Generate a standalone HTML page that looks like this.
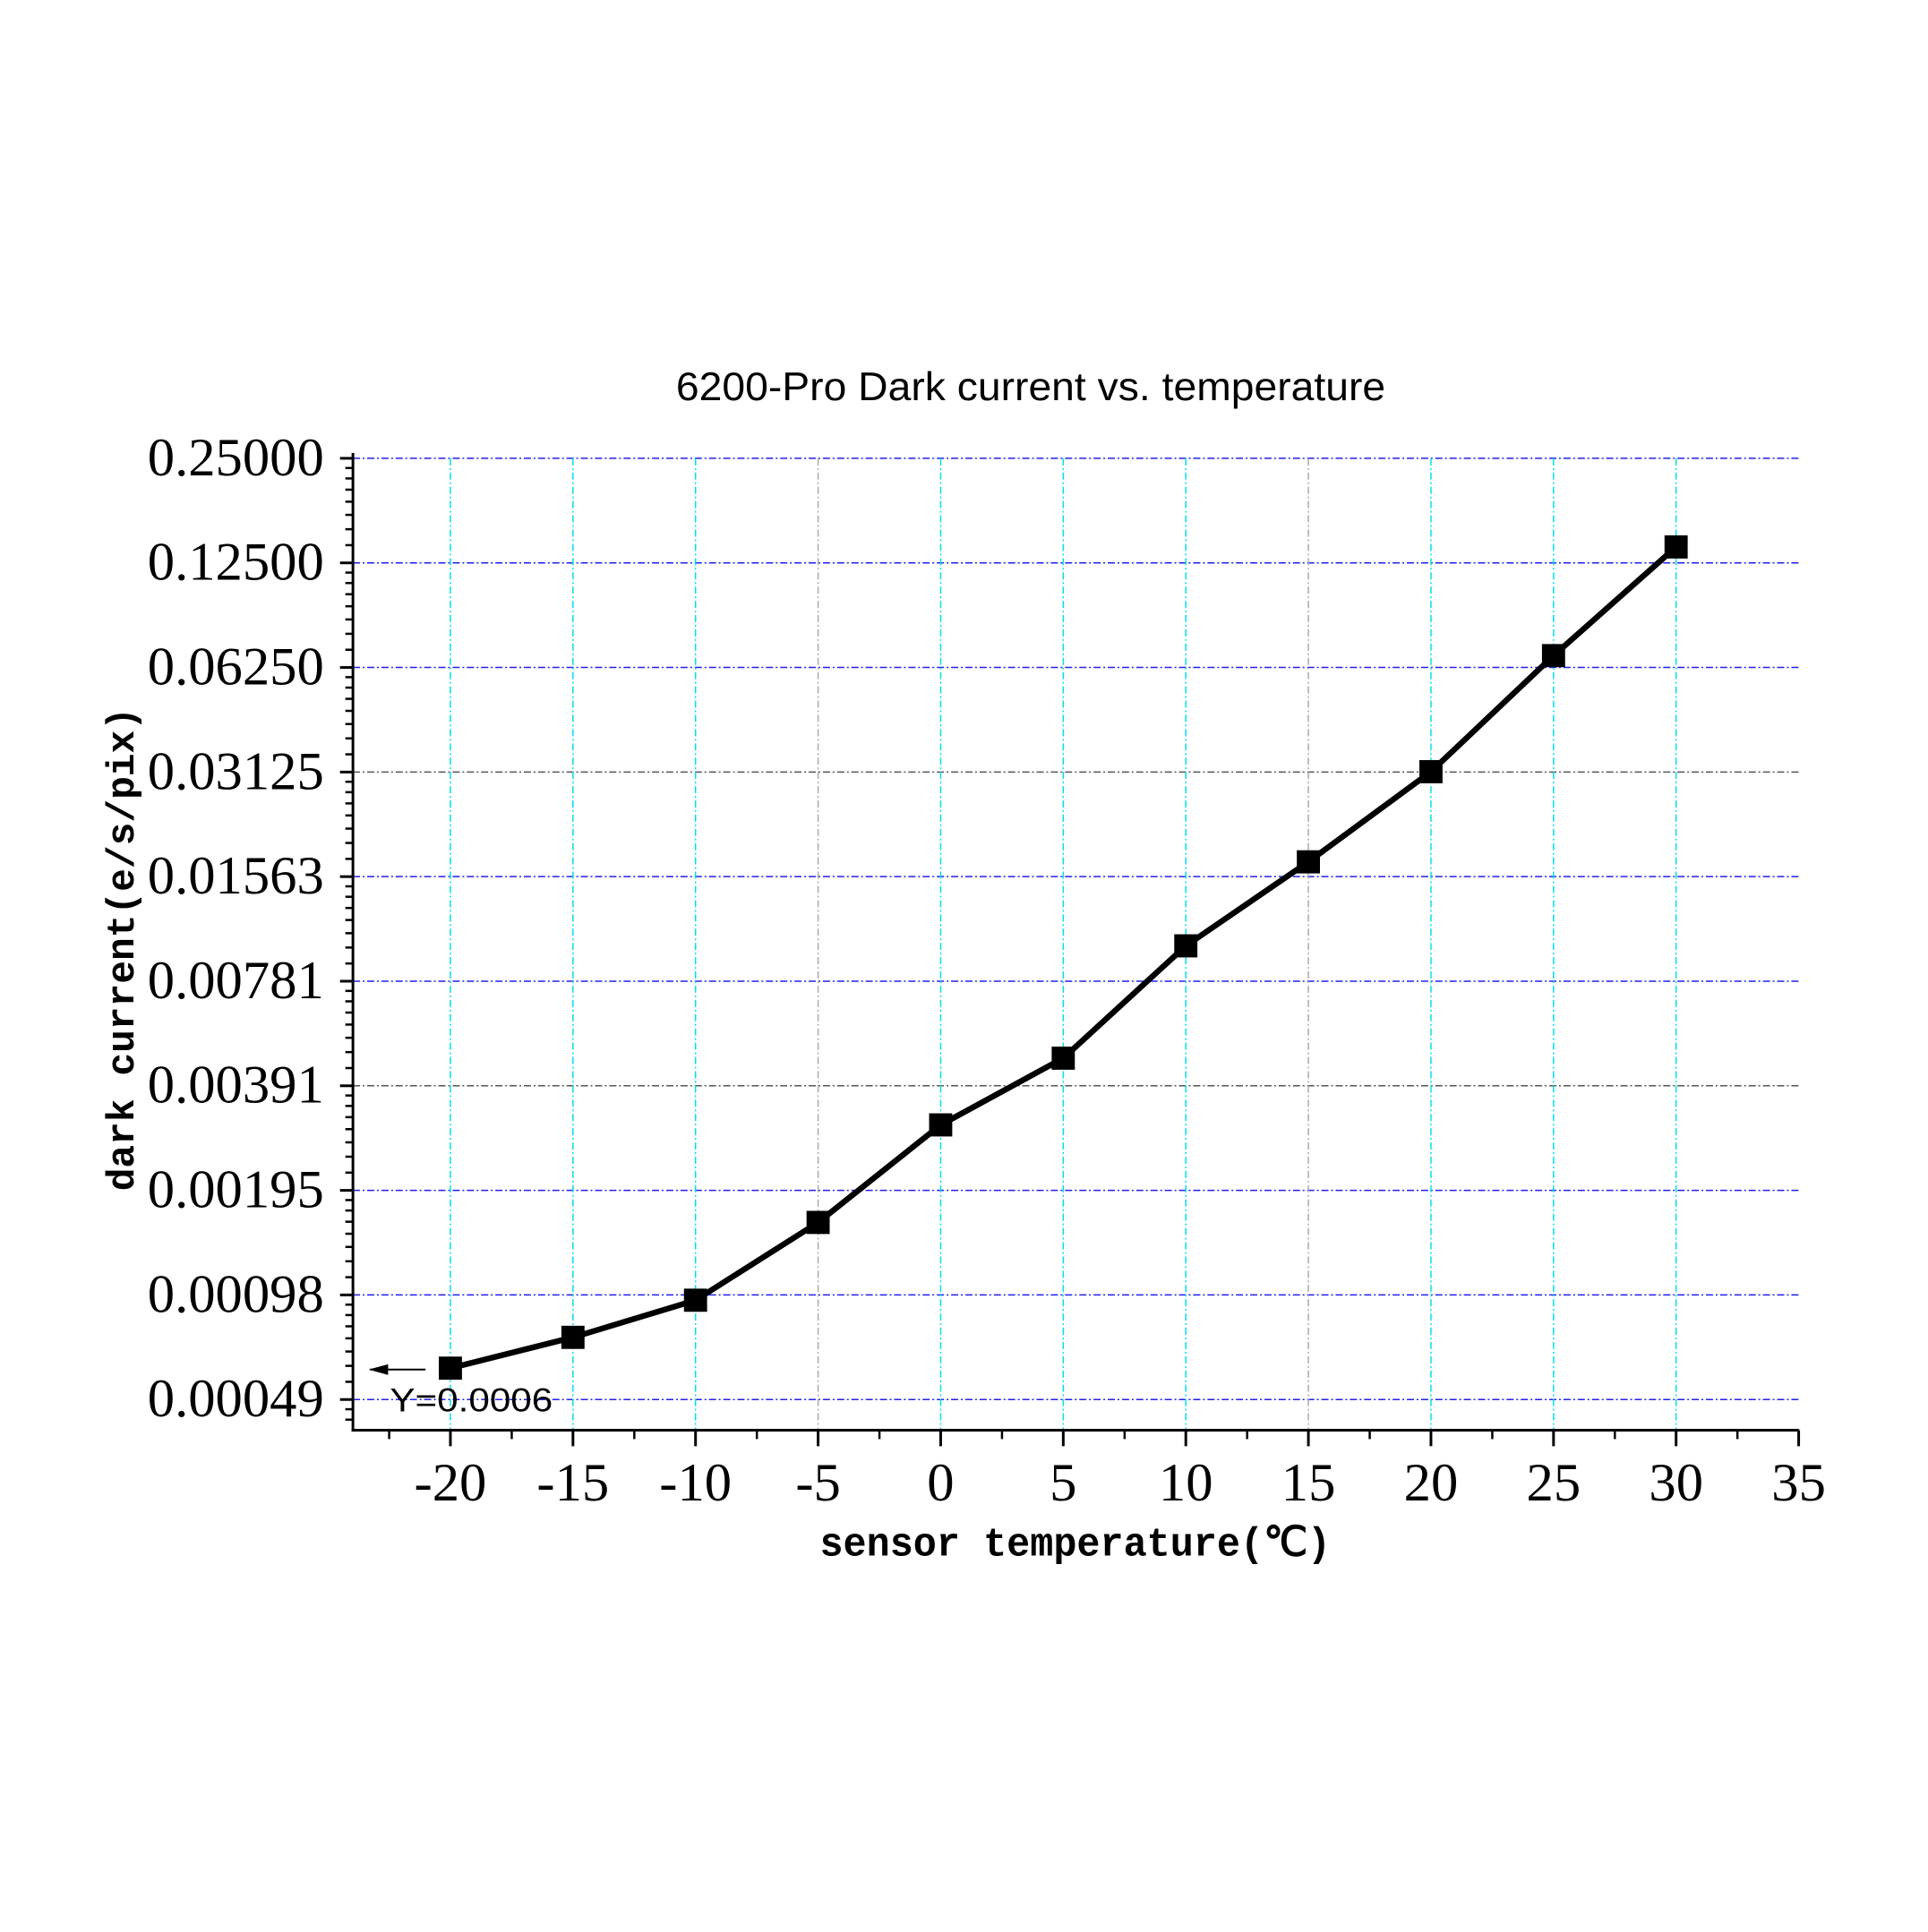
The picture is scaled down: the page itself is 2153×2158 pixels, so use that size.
<!DOCTYPE html>
<html><head><meta charset="utf-8"><style>html,body{margin:0;padding:0;background:#fff}</style></head>
<body>
<svg xmlns="http://www.w3.org/2000/svg" width="2153" height="2153" viewBox="0 0 2153 2153">
<defs>
<g id="mt" stroke="#000" stroke-width="2.5">
<line x1="388" y1="10.9" x2="396.5" y2="10.9"/><line x1="388" y1="22.6" x2="396.5" y2="22.6"/>
<line x1="388" y1="35.2" x2="396.5" y2="35.2"/><line x1="388" y1="48.7" x2="396.5" y2="48.7"/>
<line x1="388" y1="63.5" x2="396.5" y2="63.5"/><line x1="388" y1="79.6" x2="396.5" y2="79.6"/>
<line x1="388" y1="97.5" x2="396.5" y2="97.5"/>
</g>
</defs>
<rect width="2153" height="2153" fill="#fff"/>
<g transform="matrix(0.994,0,0,0.995,0,-1.5)">
<text x="1158" y="451" font-family="Liberation Sans, sans-serif" font-size="45" text-anchor="middle" textLength="797" lengthAdjust="spacingAndGlyphs">6200-Pro Dark current vs. temperature</text>

<g stroke="#2020ee" stroke-width="1.5" stroke-dasharray="8 3 2 3">
<line x1="396.5" y1="516" x2="2021" y2="516"/>
<line x1="396.5" y1="633.4" x2="2021" y2="633.4"/>
<line x1="396.5" y1="750.8" x2="2021" y2="750.8"/>
<line x1="396.5" y1="868.2" x2="2021" y2="868.2" stroke="#555"/>
<line x1="396.5" y1="985.6" x2="2021" y2="985.6"/>
<line x1="396.5" y1="1103" x2="2021" y2="1103"/>
<line x1="396.5" y1="1220.4" x2="2021" y2="1220.4" stroke="#555"/>
<line x1="396.5" y1="1337.8" x2="2021" y2="1337.8"/>
<line x1="396.5" y1="1455.2" x2="2021" y2="1455.2"/>
<line x1="396.5" y1="1572.6" x2="2021" y2="1572.6"/>
</g>
<g stroke="#00e0e8" stroke-width="1.5" stroke-dasharray="8 3 2 3">
<line x1="506" y1="516" x2="506" y2="1607"/>
<line x1="643.7" y1="516" x2="643.7" y2="1607"/>
<line x1="781.4" y1="516" x2="781.4" y2="1607"/>
<line x1="919.1" y1="516" x2="919.1" y2="1607" stroke="#aaa"/>
<line x1="1056.8" y1="516" x2="1056.8" y2="1607"/>
<line x1="1194.5" y1="516" x2="1194.5" y2="1607"/>
<line x1="1332.2" y1="516" x2="1332.2" y2="1607"/>
<line x1="1469.9" y1="516" x2="1469.9" y2="1607" stroke="#aaa"/>
<line x1="1607.6" y1="516" x2="1607.6" y2="1607"/>
<line x1="1745.3" y1="516" x2="1745.3" y2="1607"/>
<line x1="1883" y1="516" x2="1883" y2="1607"/>
</g>

<g stroke="#000" stroke-width="3">
<line x1="382" y1="516" x2="396.5" y2="516"/>
<line x1="382" y1="633.4" x2="396.5" y2="633.4"/>
<line x1="382" y1="750.8" x2="396.5" y2="750.8"/>
<line x1="382" y1="868.2" x2="396.5" y2="868.2"/>
<line x1="382" y1="985.6" x2="396.5" y2="985.6"/>
<line x1="382" y1="1103" x2="396.5" y2="1103"/>
<line x1="382" y1="1220.4" x2="396.5" y2="1220.4"/>
<line x1="382" y1="1337.8" x2="396.5" y2="1337.8"/>
<line x1="382" y1="1455.2" x2="396.5" y2="1455.2"/>
<line x1="382" y1="1572.6" x2="396.5" y2="1572.6"/>
</g>
<use href="#mt" transform="translate(0,516)"/>
<use href="#mt" transform="translate(0,633.4)"/>
<use href="#mt" transform="translate(0,750.8)"/>
<use href="#mt" transform="translate(0,868.2)"/>
<use href="#mt" transform="translate(0,985.6)"/>
<use href="#mt" transform="translate(0,1103)"/>
<use href="#mt" transform="translate(0,1220.4)"/>
<use href="#mt" transform="translate(0,1337.8)"/>
<use href="#mt" transform="translate(0,1455.2)"/>
<g stroke="#000" stroke-width="2.5"><line x1="388" y1="1583.5" x2="396.5" y2="1583.5"/><line x1="388" y1="1595.2" x2="396.5" y2="1595.2"/></g>

<g font-family="Liberation Serif, serif" font-size="61" text-anchor="end">
<text x="364" y="535">0.25000</text>
<text x="364" y="652.4">0.12500</text>
<text x="364" y="769.8">0.06250</text>
<text x="364" y="887.2">0.03125</text>
<text x="364" y="1004.6">0.01563</text>
<text x="364" y="1122">0.00781</text>
<text x="364" y="1239.4">0.00391</text>
<text x="364" y="1356.8">0.00195</text>
<text x="364" y="1474.2">0.00098</text>
<text x="364" y="1591.6">0.00049</text>
</g>

<g stroke="#000" stroke-width="3">
<line x1="506" y1="1607" x2="506" y2="1625"/>
<line x1="643.7" y1="1607" x2="643.7" y2="1625"/>
<line x1="781.4" y1="1607" x2="781.4" y2="1625"/>
<line x1="919.1" y1="1607" x2="919.1" y2="1625"/>
<line x1="1056.8" y1="1607" x2="1056.8" y2="1625"/>
<line x1="1194.5" y1="1607" x2="1194.5" y2="1625"/>
<line x1="1332.2" y1="1607" x2="1332.2" y2="1625"/>
<line x1="1469.9" y1="1607" x2="1469.9" y2="1625"/>
<line x1="1607.6" y1="1607" x2="1607.6" y2="1625"/>
<line x1="1745.3" y1="1607" x2="1745.3" y2="1625"/>
<line x1="1883" y1="1607" x2="1883" y2="1625"/>
<line x1="2020.7" y1="1607" x2="2020.7" y2="1625"/>
</g>
<g stroke="#000" stroke-width="2.5">
<line x1="437.2" y1="1607" x2="437.2" y2="1617"/>
<line x1="574.9" y1="1607" x2="574.9" y2="1617"/>
<line x1="712.6" y1="1607" x2="712.6" y2="1617"/>
<line x1="850.3" y1="1607" x2="850.3" y2="1617"/>
<line x1="988" y1="1607" x2="988" y2="1617"/>
<line x1="1125.7" y1="1607" x2="1125.7" y2="1617"/>
<line x1="1263.4" y1="1607" x2="1263.4" y2="1617"/>
<line x1="1401.1" y1="1607" x2="1401.1" y2="1617"/>
<line x1="1538.8" y1="1607" x2="1538.8" y2="1617"/>
<line x1="1676.5" y1="1607" x2="1676.5" y2="1617"/>
<line x1="1814.2" y1="1607" x2="1814.2" y2="1617"/>
<line x1="1951.9" y1="1607" x2="1951.9" y2="1617"/>
</g>
<g font-family="Liberation Serif, serif" font-size="61" text-anchor="middle">
<text x="506" y="1686">-20</text>
<text x="643.7" y="1686">-15</text>
<text x="781.4" y="1686">-10</text>
<text x="919.1" y="1686">-5</text>
<text x="1056.8" y="1686">0</text>
<text x="1194.5" y="1686">5</text>
<text x="1332.2" y="1686">10</text>
<text x="1469.9" y="1686">15</text>
<text x="1607.6" y="1686">20</text>
<text x="1745.3" y="1686">25</text>
<text x="1883" y="1686">30</text>
<text x="2020.7" y="1686">35</text>
</g>

<line x1="396.5" y1="510" x2="396.5" y2="1608.5" stroke="#000" stroke-width="3"/>
<line x1="395" y1="1607" x2="2021" y2="1607" stroke="#000" stroke-width="3"/>

<polyline points="506,1537.4 643.7,1502.8 781.4,1461.1 919.1,1373.8 1056.8,1264.3 1194.5,1189.4 1332.2,1063.3 1469.9,969 1607.6,867.8 1745.3,737.5 1883,615.5" fill="none" stroke="#000" stroke-width="6.5" stroke-linejoin="round"/>
<g fill="#000">
<rect x="493" y="1524.4" width="26" height="26"/>
<rect x="630.7" y="1489.8" width="26" height="26"/>
<rect x="768.4" y="1448.1" width="26" height="26"/>
<rect x="906.1" y="1360.8" width="26" height="26"/>
<rect x="1043.8" y="1251.3" width="26" height="26"/>
<rect x="1181.5" y="1176.4" width="26" height="26"/>
<rect x="1319.2" y="1050.3" width="26" height="26"/>
<rect x="1456.9" y="956" width="26" height="26"/>
<rect x="1594.6" y="854.8" width="26" height="26"/>
<rect x="1732.3" y="724.5" width="26" height="26"/>
<rect x="1870" y="602.5" width="26" height="26"/>
</g>

<line x1="416" y1="1539" x2="478" y2="1539" stroke="#000" stroke-width="2"/>
<polygon points="414,1539 436,1533 436,1545" fill="#000"/>
<text x="438" y="1586" font-family="Liberation Sans, sans-serif" font-size="37" textLength="183" lengthAdjust="spacingAndGlyphs">Y=0.0006</text>

<text x="1208" y="1748" font-family="Liberation Mono, monospace" font-weight="bold" font-size="46" text-anchor="middle" textLength="574" lengthAdjust="spacingAndGlyphs">sensor temperature(℃)</text>
<text transform="translate(150,1067) rotate(-90)" font-family="Liberation Mono, monospace" font-weight="bold" font-size="44" text-anchor="middle" textLength="543" lengthAdjust="spacingAndGlyphs">dark current(e/s/pix)</text>
</g>
</svg>
</body></html>
